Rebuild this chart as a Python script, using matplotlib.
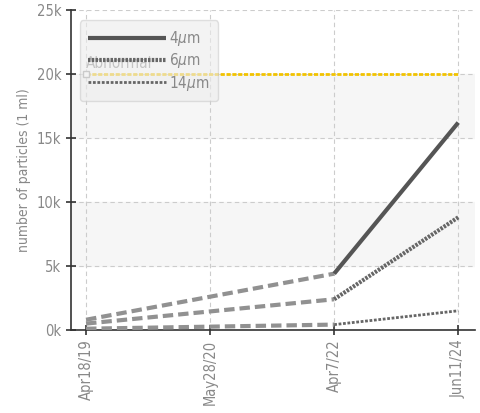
import numpy as np
import matplotlib.pyplot as plt

plt.rcParams['font.family'] = ['DejaVu Sans']
plt.rcParams['font.stretch'] = 'condensed'

dates = ["Apr18/19", "May28/20", "Apr7/22", "Jun11/24"]
x = np.arange(len(dates))

# measured points (May28/20 has no measurement)
meas_x = [0, 2, 3]
p4 = [800, 4400, 16200]
p6 = [500, 2400, 8800]
p14 = [100, 420, 1500]
limit = 20000

fig = plt.figure(figsize=(4.81, 4.13), dpi=100)
ax = fig.add_axes([0.148, 0.201, 0.84, 0.775])

ax.set_xlim(-0.12, 3.137)
ax.set_ylim(0, 25000)

# alternating bands
for lo, hi in [(5000, 10000), (15000, 20000)]:
    ax.axhspan(lo, hi, color="#f6f6f6", zorder=0)

ax.grid(True, color="#cccccc", linestyle=(0, (4, 3)), linewidth=0.8, zorder=1)
ax.set_axisbelow(True)

ax.plot([0, 3], [limit, limit], color="#f2c300", lw=2, ls=(0, (1.5, 0.6)), zorder=2)
ax.plot([0], [limit], marker="s", ms=4, mfc="white", mec="#999999", zorder=3)
ax.text(0.0, limit + 250, "Abnormal", color="#888888", fontsize=11, va="bottom", zorder=3)

# gap connectors
for s in (p4, p6, p14):
    ax.plot(meas_x[:2], s[:2], color="#919191", lw=3, ls=(0, (2.5, 1.2)), zorder=3)

l4, = ax.plot(meas_x[1:], p4[1:], color="#555555", lw=3, solid_capstyle="butt", zorder=4, label="4$\\mu$m")
l6, = ax.plot(meas_x[1:], p6[1:], color="#666666", lw=3, ls=(0, (0.6, 0.3)), zorder=4, label="6$\\mu$m")
l14, = ax.plot(meas_x[1:], p14[1:], color="#666666", lw=2, ls=(0, (1, 0.6)), zorder=4, label="14$\\mu$m")

ax.set_xticks(x)
ax.set_xticklabels(dates, rotation=90, color="#888888", fontsize=10.5)
ax.set_yticks(np.arange(0, 25001, 5000))
ax.set_yticklabels([f"{v // 1000}k" for v in range(0, 25001, 5000)], color="#888888", fontsize=10.5)
ax.set_ylabel("number of particles (1 ml)", color="#888888", fontsize=10)
ax.tick_params(direction="inout", length=7, color="#333333", width=1.2)

for side in ("top", "right"):
    ax.spines[side].set_visible(False)
for side in ("left", "bottom"):
    ax.spines[side].set_color("#333333")
    ax.spines[side].set_linewidth(1.2)

leg = ax.legend(handles=[l4, l6, l14], loc="upper left", bbox_to_anchor=(0.022, 0.967),
                fontsize=11, labelcolor="#888888", handlelength=5.1, handletextpad=0.2,
                labelspacing=0.22, borderpad=0.55, borderaxespad=0, fancybox=True,
                facecolor="#ececec", edgecolor="#cccccc", framealpha=0.6)
leg.set_zorder(5)

fig.savefig("out.png", dpi=100)
